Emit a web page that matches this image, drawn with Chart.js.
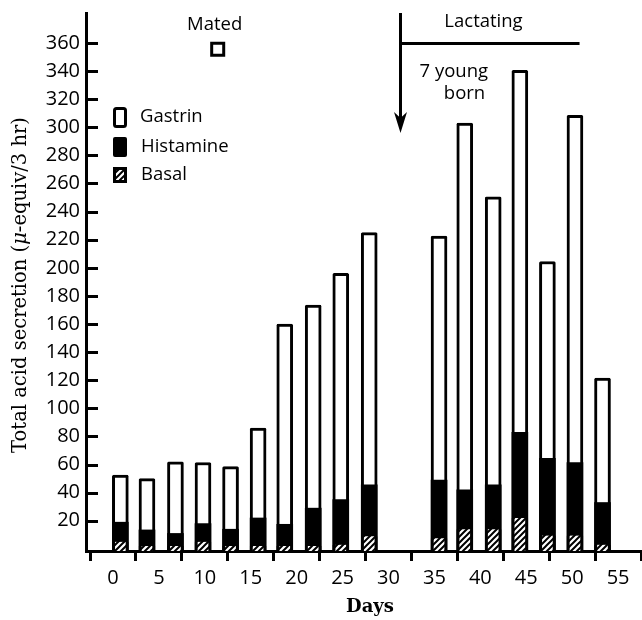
<!DOCTYPE html>
<html>
<head>
<meta charset="utf-8">
<script src="https://cdn.jsdelivr.net/npm/chart.js@4.4.1/dist/chart.umd.min.js"></script>
<style>
  html, body { margin: 0; padding: 0; background: #fff; }
  canvas { display: block; }
</style>
</head>
<body>
<canvas id="chart" width="642" height="620"></canvas>
<script>
// Day of each test
const days = [0.8, 3.7, 6.8, 9.8, 12.8, 15.8, 18.7, 21.8, 24.8, 27.9, 35.5, 38.3, 41.4, 44.3, 47.3, 50.3, 53.3];
// Levels: top of basal, top of histamine, top of gastrin (total)
const basal = [5, 2, 2, 5, 2, 2, 2, 2, 3, 9, 7.5, 14, 14, 22, 9.5, 9.5, 3];
const histamine = [19, 13.5, 11, 18, 14, 22, 17.5, 29, 35, 45.5, 49, 42, 45.5, 83, 64.5, 61.5, 33];
const gastrin = [52.5, 50, 62, 61.5, 58.5, 86, 160, 173.5, 196, 225, 222.5, 303, 250.5, 340.5, 204.5, 308.5, 121.5];

const xTicks = [0, 5, 10, 15, 20, 25, 30, 35, 40, 45, 50, 55];
const yTicks = [20, 40, 60, 80, 100, 120, 140, 160, 180, 200, 220, 240, 260, 280, 300, 320, 340, 360];

// Mating marker and the birth / lactation note
const mated = [{ x: 11.4, y: 355.5 }];
const birthDay = 31.3;
const lactationEnd = 50.8;
const lactationLevel = 360;
const arrowTip = 296;

const toPoints = arr => arr.map((v, i) => ({ x: days[i], y: v }));

// diagonal hatching for the basal bars
function makeHatch() {
    const c = document.createElement('canvas');
    c.width = 6; c.height = 6;
    const g = c.getContext('2d');
    g.fillStyle = '#fff';
    g.fillRect(0, 0, 6, 6);
    g.strokeStyle = '#000';
    g.lineWidth = 2;
    g.beginPath();
    g.moveTo(-1, 7); g.lineTo(7, -1);
    g.moveTo(-4, 4); g.lineTo(4, -4);
    g.moveTo(2, 10); g.lineTo(10, 2);
    g.stroke();
    return document.getElementById('chart').getContext('2d').createPattern(c, 'repeat');
}
const hatch = makeHatch();

const extras = {
    id: 'extras',
    afterDraw(chart) {
        const { ctx, chartArea, scales: { x, y } } = chart;
        ctx.save();
        ctx.strokeStyle = '#000';
        ctx.fillStyle = '#000';

        // y ticks point inwards
        ctx.lineWidth = 3;
        yTicks.forEach(v => {
            const py = Math.round(y.getPixelForValue(v)) + 0.5;
            ctx.beginPath();
            ctx.moveTo(chartArea.left, py);
            ctx.lineTo(chartArea.left + 12, py);
            ctx.stroke();
        });

        // y axis title with italic mu
        ctx.save();
        ctx.translate(21, 285);
        ctx.rotate(-Math.PI / 2);
        const parts = [
            ['Total acid secretion (', '19.5px "DejaVu Serif"'],
            ['\u03bc', 'italic 19.5px "DejaVu Serif"'],
            ['-equiv/3 hr)', '19.5px "DejaVu Serif"']
        ];
        let total = 0;
        parts.forEach(p => { ctx.font = p[1]; total += ctx.measureText(p[0]).width; });
        let tx = -total / 2;
        ctx.textBaseline = 'middle';
        parts.forEach(p => {
            ctx.font = p[1];
            ctx.fillText(p[0], tx, 0);
            tx += ctx.measureText(p[0]).width;
        });
        ctx.restore();

        // x axis title
        ctx.font = 'bold 18px "DejaVu Serif"';
        ctx.textAlign = 'center';
        ctx.textBaseline = 'middle';
        ctx.fillText('Days', 370, 607);

        // legend
        const lx = chartArea.left + 27;
        const top = chartArea.top;
        ctx.lineWidth = 3;
        ctx.fillStyle = '#fff';
        ctx.beginPath();
        ctx.roundRect(lx + 1.5, top + 95.5, 11, 18, 2);
        ctx.fill(); ctx.stroke();
        ctx.fillStyle = '#000';
        ctx.beginPath();
        ctx.roundRect(lx, top + 124, 14, 20, 2);
        ctx.fill();
        ctx.fillStyle = hatch;
        ctx.beginPath();
        ctx.rect(lx + 1.5, top + 155.5, 11, 13);
        ctx.fill(); ctx.stroke();

        ctx.fillStyle = '#000';
        ctx.font = '18.5px "Open Sans"';
        ctx.textAlign = 'left';
        ctx.fillText('Gastrin', lx + 27, top + 104);
        ctx.fillText('Histamine', lx + 28, top + 134);
        ctx.fillText('Basal', lx + 28, top + 162);

        // Mated label
        const mx = x.getPixelForValue(mated[0].x);
        const my = y.getPixelForValue(mated[0].y);
        ctx.textAlign = 'center';
        ctx.fillText('Mated', mx - 3, my - 25);

        // birth arrow and lactation bar
        const bx = Math.round(x.getPixelForValue(birthDay)) + 0.5;
        const ex = x.getPixelForValue(lactationEnd);
        const ly = Math.round(y.getPixelForValue(lactationLevel)) + 0.5;
        const tipY = y.getPixelForValue(arrowTip);
        ctx.lineWidth = 3;
        ctx.beginPath();
        ctx.moveTo(bx, chartArea.top);
        ctx.lineTo(bx, tipY - 12);
        ctx.moveTo(bx, ly);
        ctx.lineTo(ex, ly);
        ctx.stroke();
        ctx.beginPath();
        ctx.moveTo(bx, tipY);
        ctx.lineTo(bx - 6.5, tipY - 21);
        ctx.lineTo(bx, tipY - 15);
        ctx.lineTo(bx + 6.5, tipY - 21);
        ctx.closePath();
        ctx.fill();

        ctx.fillText('Lactating', bx + 83, chartArea.top + 9);
        ctx.textAlign = 'left';
        ctx.fillText('7 young', bx + 19, chartArea.top + 59);
        ctx.textAlign = 'center';
        ctx.fillText('born', bx + 64, chartArea.top + 81);
        ctx.restore();
    }
};

Chart.defaults.font.family = '"Open Sans"';
Chart.defaults.color = '#000';

new Chart(document.getElementById('chart'), {
    data: {
        datasets: [
            {
                type: 'scatter',
                label: 'Mated',
                data: mated,
                pointStyle: 'rect',
                radius: 8.5,
                borderWidth: 3,
                borderColor: '#000',
                backgroundColor: '#fff'
            },
            {
                type: 'bar',
                label: 'Basal',
                data: toPoints(basal),
                backgroundColor: hatch,
                borderColor: '#000',
                borderWidth: { left: 3, right: 3, top: 0, bottom: 0 },
                base: -1.5,
                barThickness: 16,
                grouped: false
            },
            {
                type: 'bar',
                label: 'Histamine',
                data: toPoints(histamine),
                backgroundColor: '#000',
                borderWidth: 0,
                base: -1.5,
                barThickness: 16,
                grouped: false
            },
            {
                type: 'bar',
                label: 'Gastrin',
                data: toPoints(gastrin),
                backgroundColor: '#fff',
                borderColor: '#000',
                borderWidth: 3,
                borderRadius: 1.5,
                base: -1.5,
                barThickness: 16,
                grouped: false
            }
        ]
    },
    options: {
        responsive: false,
        animation: false,
        devicePixelRatio: 1,
        events: [],
        layout: { autoPadding: false, padding: { top: 13, left: 0, right: 0, bottom: 0 } },
        plugins: {
            legend: { display: false },
            tooltip: { enabled: false }
        },
        scales: {
            x: {
                type: 'linear',
                min: -2.94,
                max: 57.6,
                offset: false,
                afterBuildTicks: scale => { scale.ticks = xTicks.map(v => ({ value: v })); },
                afterFit: scale => {
                    scale.height = 69;
                    scale.paddingLeft = 0;
                    scale.paddingRight = 0;
                },
                grid: {
                    display: true,
                    drawOnChartArea: false,
                    drawTicks: true,
                    tickLength: 10,
                    tickWidth: 3,
                    tickColor: '#000',
                    color: '#000'
                },
                border: { display: true, color: '#000', width: 3 },
                ticks: {
                    font: { size: 20 },
                    color: '#000',
                    padding: 5,
                    maxRotation: 0,
                    autoSkip: false
                }
            },
            y: {
                type: 'linear',
                min: -1.5,
                max: 381.3,
                afterBuildTicks: scale => { scale.ticks = yTicks.map(v => ({ value: v })); },
                afterFit: scale => {
                    scale.width = 86;
                    scale.paddingTop = 0;
                    scale.paddingBottom = 0;
                },
                grid: {
                    display: true,
                    drawOnChartArea: false,
                    drawTicks: false
                },
                border: { display: true, color: '#000', width: 3 },
                ticks: {
                    font: { size: 20 },
                    color: '#000',
                    padding: 6,
                    autoSkip: false
                }
            }
        }
    },
    plugins: [extras]
});
</script>
</body>
</html>
